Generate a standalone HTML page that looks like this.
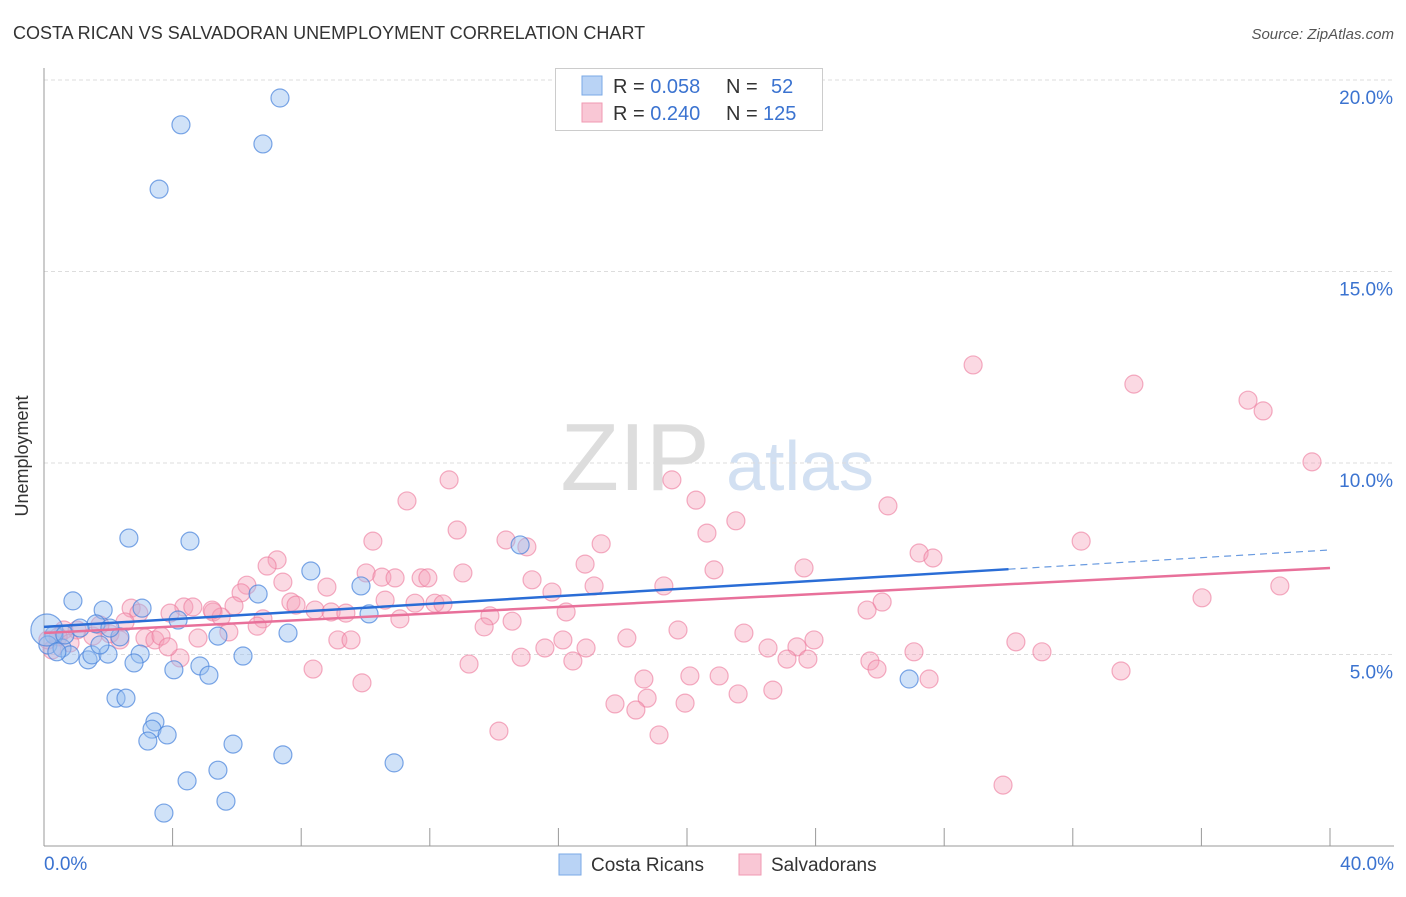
<!DOCTYPE html>
<html><head><meta charset="utf-8"><style>
body{margin:0;background:#fff;font-family:"Liberation Sans",sans-serif;}
svg text{font-family:"Liberation Sans",sans-serif;}
</style></head><body>
<svg id="chart" width="1406" height="892">
<text x="13" y="39" font-size="18" fill="#333">COSTA RICAN VS SALVADORAN UNEMPLOYMENT CORRELATION CHART</text>
<text x="1394" y="39" font-size="15" fill="#555" text-anchor="end" font-style="italic">Source: ZipAtlas.com</text>
<text x="28" y="456" font-size="18" fill="#333" text-anchor="middle" transform="rotate(-90 28 456)">Unemployment</text>
<g><text x="635" y="490" font-size="96" fill="#ddd" font-family="Liberation Serif" text-anchor="middle">ZIP</text><text x="800" y="490" font-size="70" fill="#d2e0f2" text-anchor="middle">atlas</text></g>
<g id="grid"></g><g id="pts"></g><g id="lines"></g>
<g>
<rect x="555.5" y="68.5" width="267" height="62" fill="#fff" stroke="#ccc"/>
<rect x="582" y="76" width="20" height="19" fill="#b9d3f5" stroke="#7aa8e6"/>
<rect x="582" y="103" width="20" height="19" fill="#f9c7d5" stroke="#f09ab2"/>
<text x="613" y="93" font-size="20" fill="#333">R = <tspan fill="#3b73d0">0.058</tspan><tspan x="726">N = </tspan><tspan x="771" fill="#3b73d0">52</tspan></text>
<text x="613" y="120" font-size="20" fill="#333">R = <tspan fill="#3b73d0">0.240</tspan><tspan x="726">N = </tspan><tspan x="763" fill="#3b73d0">125</tspan></text>
</g>
<g>
<rect x="559" y="854" width="22" height="21" fill="#b9d3f5" stroke="#7aa8e6"/>
<text x="591" y="871" font-size="19" fill="#333">Costa Ricans</text>
<rect x="739" y="854" width="22" height="21" fill="#f9c7d5" stroke="#f09ab2"/>
<text x="771" y="871" font-size="19" fill="#333">Salvadorans</text>
</g>
</svg>
<script>
const yTicks=[5,10,15,20];
const xTickLabels=["0.0%","40.0%"];
const blueX=[7.34,4.26,6.81,3.58,2.64,4.54,8.30,9.86,0.90,1.84,3.05,6.66,10.11,4.17,5.41,7.59,1.62,2.36,0.31,0.12,0.56,0.81,1.37,1.49,1.99,2.99,2.80,4.85,5.13,4.04,6.19,2.24,2.55,3.45,3.36,3.83,3.23,5.88,7.43,4.45,5.41,5.66,3.73,10.89,14.81,26.91,0.09,0.40,0.65,1.12,2.05,1.74];
const blueY=[19.53,18.83,18.33,17.15,8.04,7.96,7.18,6.79,6.40,6.16,6.21,6.58,6.06,5.90,5.48,5.56,5.80,5.46,5.51,5.25,5.17,4.99,4.86,4.99,5.01,5.01,4.78,4.70,4.46,4.60,4.96,3.86,3.86,3.24,3.05,2.90,2.74,2.66,2.38,1.70,1.98,1.17,0.86,2.17,7.86,4.36,5.64,5.07,5.51,5.69,5.69,5.25];
const pinkX=[28.90,33.90,37.45,37.92,39.44,12.60,19.53,11.29,20.28,26.25,21.52,12.85,20.62,14.37,32.26,10.23,17.33,15.02,27.22,27.65,7.25,6.94,16.83,20.84,23.64,10.02,10.51,10.92,11.73,11.94,13.03,15.18,6.31,7.43,8.80,17.11,19.28,38.44,15.80,6.13,36.02,7.68,7.84,10.61,11.54,12.16,12.41,8.43,8.93,9.39,16.24,26.07,25.60,4.35,2.71,4.63,5.26,5.91,5.51,2.95,3.92,5.23,6.81,6.63,11.07,13.87,14.56,13.69,2.52,2.05,1.52,1.03,0.62,0.44,3.14,3.45,3.64,4.79,5.75,9.14,9.55,16.14,18.13,19.72,21.77,30.23,22.52,23.42,23.95,15.58,16.86,31.04,27.06,23.11,23.76,25.69,25.91,14.84,16.45,4.23,3.86,8.37,13.22,33.50,18.66,20.09,21.00,27.53,9.89,21.59,22.67,18.76,17.76,18.41,19.94,14.15,19.13,29.83,0.25,0.12,0.81,1.74,2.36];
const pinkY=[12.56,12.06,11.64,11.36,10.03,9.56,9.56,9.01,9.03,8.88,8.49,8.25,8.17,7.99,7.96,7.96,7.89,7.81,7.65,7.52,7.47,7.31,7.36,7.21,7.26,7.13,7.02,7.00,7.00,7.00,7.13,6.95,6.81,6.89,6.76,6.79,6.79,6.79,6.63,6.61,6.48,6.37,6.29,6.42,6.34,6.34,6.32,6.16,6.11,6.08,6.11,6.37,6.16,6.24,6.21,6.24,6.11,6.27,5.98,6.08,6.08,6.16,5.93,5.74,5.93,6.01,5.87,5.72,5.85,5.54,5.48,5.64,5.64,5.46,5.43,5.38,5.48,5.43,5.59,5.38,5.38,5.38,5.43,5.64,5.56,5.33,5.17,5.20,5.38,5.17,5.17,5.07,5.07,4.88,4.88,4.83,4.62,4.93,4.83,4.91,5.20,4.62,4.75,4.57,4.36,4.44,4.44,4.36,4.26,3.97,4.07,3.86,3.71,3.55,3.73,3.00,2.90,1.59,5.12,5.38,5.30,5.77,5.38];
const blueTrend=[5.72,7.73];
const pinkTrend=[5.56,7.26];
const blueSolidEnd=30;
const NS="http://www.w3.org/2000/svg";
const X=v=>44+v*(1286/40);
const Y=v=>846-v*38.3;
function mk(tag,attrs,parent){const e=document.createElementNS(NS,tag);for(const k in attrs)e.setAttribute(k,attrs[k]);parent.appendChild(e);return e;}
const grid=document.getElementById('grid');
yTicks.forEach(t=>{
 const l=mk('line',{x1:44,x2:1394,y1:Y(t),y2:Y(t),stroke:'#ddd','stroke-dasharray':'4,3'},grid);
 
 
 const tx=mk('text',{x:1393,y:Y(t)+24,'font-size':19,fill:'#3b73d0','text-anchor':'end'},grid);
 tx.textContent=t.toFixed(1)+'%';
 
 
});
let a=mk('line',{x1:44,x2:44,y1:68,y2:846,stroke:'#999'},grid);


a=mk('line',{x1:44,x2:1394,y1:846,y2:846,stroke:'#999'},grid);


for(let i=1;i<=10;i++){const t=mk('line',{x1:X(i*4),x2:X(i*4),y1:828,y2:846,stroke:'#999'},grid);
 
 }
[[0,'start',44],[40,'end',1394]].forEach((p,i)=>{const t=mk('text',{x:p[2],y:870,'font-size':19,fill:'#3b73d0','text-anchor':p[1]},grid);t.textContent=xTickLabels[i];
 
 });
const pts=document.getElementById('pts');
pinkX.forEach((x,i)=>{const c=mk('circle',{cx:X(x),cy:Y(pinkY[i]),r:9,fill:'rgba(244,160,186,0.4)',stroke:'rgba(236,120,155,0.6)','stroke-width':1.2},pts);
 
 });
blueX.forEach((x,i)=>{const c=mk('circle',{cx:X(x),cy:Y(blueY[i]),r:i==46?16:9,fill:'rgba(150,190,240,0.45)',stroke:'rgba(70,130,220,0.7)','stroke-width':1.2},pts);
 
 });
const lines=document.getElementById('lines');
const by=x=>blueTrend[0]+(blueTrend[1]-blueTrend[0])*x/40;
let l=mk('line',{x1:X(0),y1:Y(by(0)),x2:X(blueSolidEnd),y2:Y(by(blueSolidEnd)),stroke:'#2a6dd6','stroke-width':2.5},lines);


l=mk('line',{x1:X(blueSolidEnd),y1:Y(by(blueSolidEnd)),x2:X(40),y2:Y(by(40)),stroke:'#6a9be0','stroke-width':1.2,'stroke-dasharray':'7,5'},lines);


l=mk('line',{x1:X(0),y1:Y(pinkTrend[0]),x2:X(40),y2:Y(pinkTrend[1]),stroke:'#e8709a','stroke-width':2.5},lines);


</script>
</body></html>
